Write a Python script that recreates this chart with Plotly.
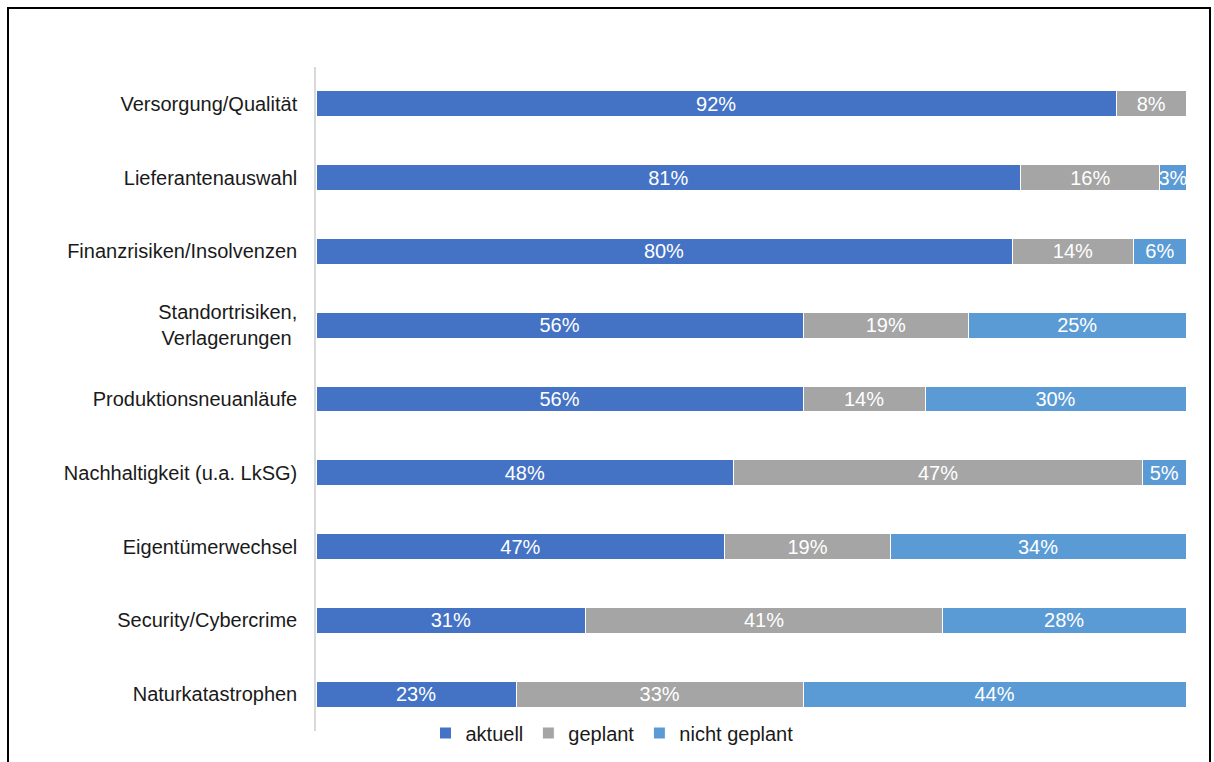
import plotly.graph_objects as go

categories = [
    "Versorgung/Qualität",
    "Lieferantenauswahl",
    "Finanzrisiken/Insolvenzen",
    "Standortrisiken,<br>Verlagerungen ",
    "Produktionsneuanläufe",
    "Nachhaltigkeit (u.a. LkSG)",
    "Eigentümerwechsel",
    "Security/Cybercrime",
    "Naturkatastrophen",
]
aktuell = [92, 81, 80, 56, 56, 48, 47, 31, 23]
geplant = [8, 16, 14, 19, 14, 47, 19, 41, 33]
nicht_geplant = [0, 3, 6, 25, 30, 5, 34, 28, 44]

series = [
    ("aktuell", aktuell, "#4472C4"),
    ("geplant", geplant, "#A5A5A5"),
    ("nicht geplant", nicht_geplant, "#5B9BD5"),
]

fig = go.Figure()
for name, vals, color in series:
    texts = [f"{v}%" if v > 0 else "" for v in vals]
    fig.add_trace(go.Bar(
        y=categories, x=vals, name=name, orientation="h",
        marker=dict(color=color, line=dict(color="white", width=1)),
        text=texts, texttemplate="%{text}", textposition="inside",
        insidetextanchor="middle", constraintext="none",
        textfont=dict(color="white", size=20, family="Liberation Sans, Arial"),
        hoverinfo="skip",
    ))

W, H = 1214, 762
L, R, T, B = 316, 28, 67, 31
pw, ph = W - L - R, H - T - B

def px(x):
    return (x - L) / pw

def py(y):
    return (H - B - y) / ph

fig.update_layout(
    width=W, height=H,
    barmode="stack", bargap=0.65,
    margin=dict(l=L, r=R, t=T, b=B, autoexpand=False),
    paper_bgcolor="white", plot_bgcolor="white",
    font=dict(family="Liberation Sans, Arial", size=20, color="#000000"),
    xaxis=dict(range=[0, 100], visible=False, showgrid=False, zeroline=False),
    yaxis=dict(autorange="reversed", showline=True, linecolor="#D9D9D9", linewidth=1.5,
               ticks="", showgrid=False, ticklabelstandoff=13,
               tickfont=dict(size=20, color="#1a1a1a")),
    showlegend=True,
    legend=dict(orientation="h", x=px(612), xanchor="center", y=py(733), yanchor="middle",
                font=dict(size=20, color="#1a1a1a"), bgcolor="rgba(0,0,0,0)",
                itemclick=False, traceorder="normal", itemwidth=30),
    shapes=[dict(type="rect", xref="paper", yref="paper",
                 x0=px(8), x1=px(1210), y0=py(790), y1=py(8),
                 line=dict(color="black", width=2), fillcolor="rgba(0,0,0,0)", layer="below")],
)

fig.write_html("out.html")
